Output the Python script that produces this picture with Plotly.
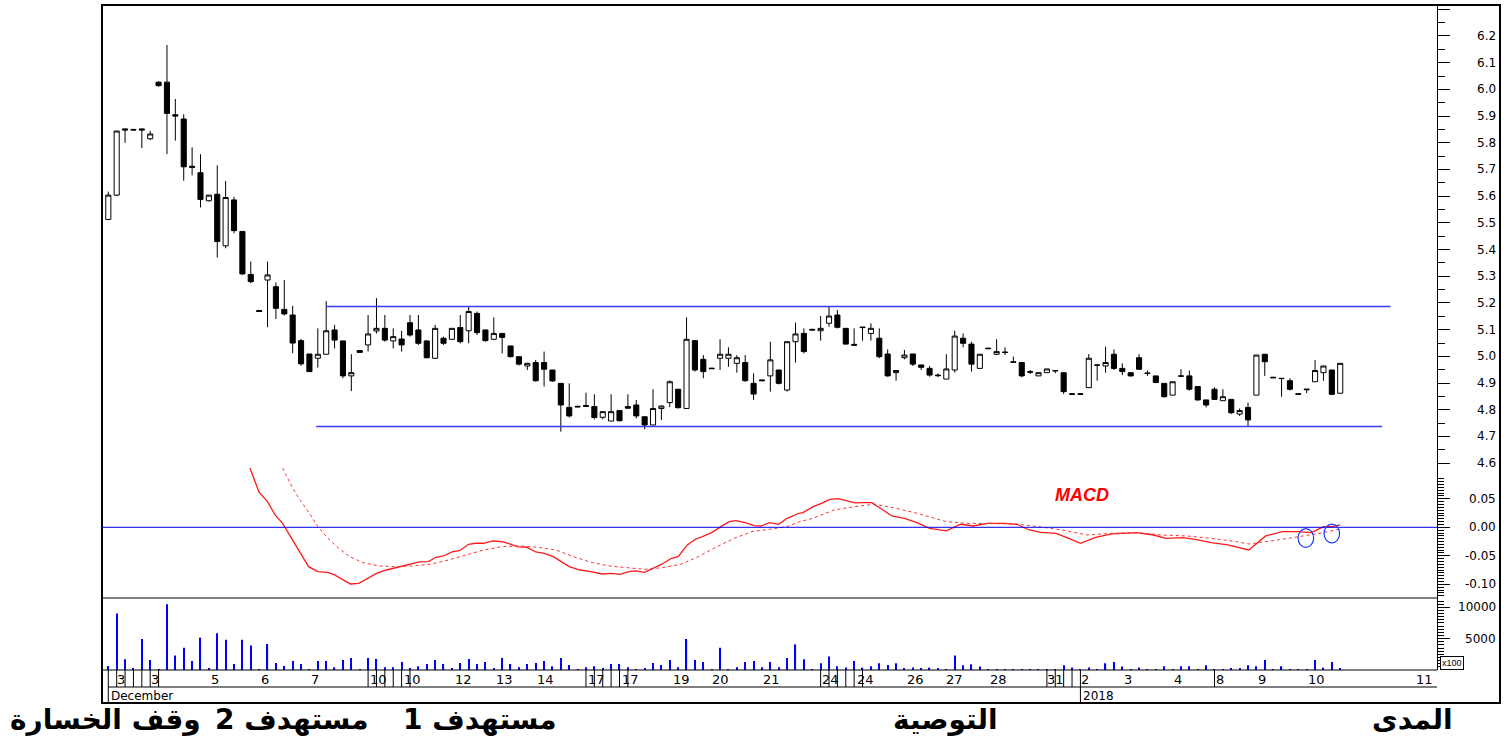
import plotly.graph_objects as go
import numpy as np

# ---------------- DATA ----------------
open_ = [5.513, 5.604, 5.852, 5.85, 5.852, 5.815, 6.027, 6.027, 5.905, 5.889,
         5.712, 5.688, 5.583, 5.607, 5.414, 5.586, 5.468, 5.307, 5.172, 5.286,
         5.261, 5.176, 5.155, 5.059, 5.009, 4.993, 5.008, 5.099, 5.058, 4.927,
         5.022, 5.043, 5.095, 5.105, 5.058, 5.065, 5.126, 5.099, 5.058, 4.993,
         5.068, 5.064, 5.108, 5.096, 5.161, 5.099, 5.064, 5.086, 5.039, 4.999,
         4.964, 4.977, 4.977, 4.949, 4.899, 4.809, 4.813, 4.816, 4.812, 4.772,
         4.758, 4.797, 4.812, 4.818, 4.774, 4.743, 4.805, 4.827, 4.877, 4.805,
         5.059, 4.989, 4.956, 4.993, 4.993, 4.974, 4.977, 4.899, 4.912, 4.927,
         4.949, 4.874, 5.055, 5.086, 5.098, 5.096, 5.124, 5.155, 5.105, 5.045,
         5.11, 5.086, 5.068, 5.009, 4.939, 4.995, 5.009, 4.968, 4.955, 4.93,
         4.915, 4.949, 5.068, 5.046, 4.955, 5.031, 5.008, 5.016, 4.98, 4.977,
         4.943, 4.927, 4.939, 4.947, 4.939, 4.86, 4.86, 4.883, 4.968, 4.964,
         5.008, 4.955, 4.939, 4.995, 4.938, 4.927, 4.899, 4.855, 4.927, 4.927,
         4.887, 4.837, 4.877, 4.834, 4.839, 4.784, 4.809, 4.855, 5.008, 4.922,
         4.918, 4.909, 4.86, 4.875, 4.905, 4.939, 4.949, 4.862]
high = [5.617, 5.845, 5.852, 5.852, 5.852, 5.845, 6.03, 6.166, 5.964, 5.907,
        5.783, 5.757, 5.604, 5.716, 5.657, 5.598, 5.468, 5.355, 5.172, 5.355,
        5.277, 5.286, 5.189, 5.065, 5.009, 5.105, 5.207, 5.118, 5.058, 5.008,
        5.022, 5.155, 5.218, 5.155, 5.105, 5.096, 5.155, 5.155, 5.06, 5.118,
        5.074, 5.105, 5.155, 5.186, 5.168, 5.099, 5.146, 5.086, 5.039, 4.999,
        4.976, 4.987, 5.018, 4.949, 4.899, 4.899, 4.815, 4.864, 4.858, 4.794,
        4.858, 4.797, 4.858, 4.837, 4.774, 4.877, 4.816, 4.91, 4.877, 5.146,
        5.061, 5.005, 4.956, 5.064, 5.034, 5.005, 5.005, 4.937, 4.912, 5.055,
        4.949, 5.055, 5.126, 5.105, 5.103, 5.151, 5.186, 5.174, 5.105, 5.105,
        5.11, 5.124, 5.105, 5.026, 4.948, 5.024, 5.009, 4.968, 4.964, 4.936,
        5.008, 5.096, 5.086, 5.055, 5.008, 5.031, 5.064, 5.034, 4.999, 4.977,
        4.949, 4.939, 4.953, 4.947, 4.939, 4.862, 4.862, 5.009, 4.97, 5.036,
        5.026, 4.974, 4.939, 5.008, 4.947, 4.927, 4.899, 4.905, 4.952, 4.947,
        4.887, 4.837, 4.884, 4.877, 4.839, 4.805, 4.827, 5.005, 5.008, 4.922,
        4.918, 4.918, 4.86, 4.878, 4.986, 4.965, 4.949, 4.974]
low = [5.51, 5.60, 5.80, 5.846, 5.78, 5.81, 6.01, 5.758, 5.808, 5.658,
       5.678, 5.558, 5.58, 5.37, 5.405, 5.461, 5.305, 5.274, 5.166, 5.109,
       5.14, 5.153, 5.012, 4.965, 4.942, 4.958, 5.008, 5.03, 4.918, 4.87,
       5.015, 5.018, 5.086, 5.055, 5.03, 5.018, 5.074, 5.043, 4.993, 4.99,
       5.043, 5.064, 5.049, 5.049, 5.08, 5.055, 5.061, 5.011, 4.996, 4.966,
       4.949, 4.905, 4.887, 4.905, 4.718, 4.771, 4.81, 4.813, 4.764, 4.764,
       4.758, 4.757, 4.805, 4.768, 4.727, 4.743, 4.762, 4.81, 4.805, 4.805,
       4.943, 4.918, 4.954, 4.949, 4.961, 4.939, 4.905, 4.837, 4.909, 4.868,
       4.895, 4.868, 4.977, 5.011, 5.097, 5.059, 5.111, 5.105, 5.045, 5.042,
       5.059, 5.059, 4.993, 4.924, 4.909, 4.989, 4.964, 4.949, 4.924, 4.922,
       4.915, 4.939, 5.034, 4.943, 4.955, 5.029, 5.005, 5.005, 4.977, 4.922,
       4.934, 4.927, 4.939, 4.937, 4.859, 4.855, 4.855, 4.883, 4.909, 4.939,
       4.949, 4.93, 4.924, 4.949, 4.927, 4.9, 4.846, 4.855, 4.922, 4.872,
       4.834, 4.809, 4.837, 4.834, 4.784, 4.777, 4.739, 4.855, 4.927, 4.92,
       4.849, 4.872, 4.858, 4.862, 4.905, 4.909, 4.855, 4.86]
close = [5.604, 5.844, 5.848, 5.848, 5.848, 5.833, 6.014, 5.91, 5.9, 5.71,
         5.708, 5.588, 5.604, 5.43, 5.595, 5.471, 5.309, 5.28, 5.168, 5.305,
         5.18, 5.159, 5.05, 4.972, 4.943, 5.008, 5.096, 5.061, 4.927, 4.939,
         5.015, 5.084, 5.105, 5.061, 5.074, 5.043, 5.08, 5.049, 4.995, 5.105,
         5.049, 5.105, 5.055, 5.168, 5.089, 5.059, 5.086, 5.071, 4.999, 4.971,
         4.974, 4.909, 4.952, 4.908, 4.818, 4.777, 4.811, 4.813, 4.771, 4.793,
         4.793, 4.759, 4.806, 4.777, 4.743, 4.805, 4.814, 4.905, 4.808, 5.064,
         4.949, 4.943, 4.954, 5.008, 5.008, 4.995, 4.909, 4.859, 4.909, 4.987,
         4.899, 5.055, 5.084, 5.018, 5.101, 5.105, 5.151, 5.109, 5.046, 5.042,
         5.108, 5.105, 4.999, 4.927, 4.947, 5.005, 4.971, 4.959, 4.93, 4.928,
         4.953, 5.076, 5.049, 4.971, 5.008, 5.029, 5.018, 5.015, 4.978, 4.927,
         4.941, 4.939, 4.953, 4.946, 4.868, 4.858, 4.858, 4.993, 4.967, 4.977,
         4.955, 4.943, 4.927, 4.952, 4.936, 4.902, 4.849, 4.905, 4.926, 4.877,
         4.837, 4.818, 4.839, 4.849, 4.789, 4.797, 4.762, 5.005, 4.98, 4.92,
         4.917, 4.877, 4.858, 4.877, 4.947, 4.964, 4.858, 4.974]
volume = [640, 9020, 1720, 270, 4940, 1610, 160, 10470, 2310, 3540,
          1450, 5160, 270, 5850, 4830, 970, 4830, 3920, 160, 4140,
          1130, 640, 1450, 970, 110, 1450, 1450, 430, 1610, 1930,
          100, 1930, 1770, 430, 430, 1290, 270, 590, 970, 1610,
          970, 270, 1130, 1770, 970, 1290, 270, 1930, 970, 430,
          970, 1130, 1450, 590, 1930, 810, 110, 430, 590, 270,
          970, 970, 430, 110, 270, 1130, 810, 1610, 430, 4940,
          1610, 1290, 110, 3540, 160, 430, 1290, 1450, 430, 1290,
          430, 1930, 4080, 1720, 100, 1070, 2150, 590, 380, 1450,
          380, 590, 1070, 810, 1070, 220, 380, 220, 380, 220,
          60, 2310, 750, 910, 540, 160, 160, 60, 160, 160,
          160, 60, 160, 160, 750, 380, 160, 380, 160, 1070,
          1290, 540, 160, 380, 160, 160, 590, 60, 590, 590,
          160, 750, 160, 160, 220, 220, 750, 590, 1610, 160,
          590, 160, 160, 60, 1610, 380, 1290, 220]

macd_x = [16.9, 18.0, 19.0, 19.9, 20.8, 22.0, 23.0, 23.9, 25.0, 26.2,
          27.0, 28.0, 28.9, 29.9, 31.0, 32.0, 33.2, 34.4, 35.8, 37.1,
          38.2, 39.1, 40.0, 41.1, 41.9, 43.0, 43.8, 44.8, 45.9, 47.0,
          47.9, 48.8, 49.9, 51.0, 52.0, 53.1, 55.0, 56.3, 57.6, 58.9,
          60.0, 61.1, 62.1, 62.9, 64.0, 65.1, 66.1, 67.2, 68.0, 69.1,
          70.1, 70.9, 72.0, 73.1, 74.1, 74.9, 76.0, 77.1, 77.9, 78.9,
          80.0, 81.0, 82.4, 82.9, 84.1, 85.1, 86.1, 87.1, 88.1, 89.1,
          90.1, 91.1, 92.3, 93.5, 95.0, 96.5, 98.0, 100.0, 101.7, 103.2,
          104.9, 106.9, 108.4, 109.9, 111.3, 113.1, 114.6, 116.0, 117.8, 119.8,
          122.7, 124.7, 126.2, 128.2, 129.7, 131.6, 133.6, 136.1, 138.1, 140.1,
          142.0, 143.6, 145.0, 146.0, 147.0]
macd = [0.104, 0.061, 0.045, 0.0216, 0.007, -0.022, -0.0456, -0.069, -0.0778, -0.079,
        -0.0836, -0.0924, -0.0994, -0.0982, -0.0895, -0.0807, -0.0749, -0.0702, -0.066, -0.0608,
        -0.0602, -0.0526, -0.0503, -0.0427, -0.041, -0.0298, -0.028, -0.028, -0.024, -0.0251,
        -0.0292, -0.0339, -0.035, -0.0433, -0.0456, -0.0515, -0.069, -0.0749, -0.0778, -0.0819,
        -0.0807, -0.0825, -0.0778, -0.0766, -0.079, -0.0719, -0.0643, -0.0544, -0.0515, -0.031,
        -0.0205, -0.0164, -0.0094, 0.0012, 0.0099, 0.0117, 0.0082, 0.0029, 0.0023, 0.0082,
        0.0053, 0.0158, 0.0246, 0.0257, 0.0363, 0.0421, 0.0491, 0.0503, 0.0462, 0.0427,
        0.0433, 0.0433, 0.0316, 0.0199, 0.0158, 0.0082, -0.0018, -0.0064, 0.0053, 0.0023,
        0.007, 0.007, 0.0053, -0.0047, -0.0088, -0.0105, -0.0193, -0.0281, -0.0175, -0.0117,
        -0.0094, -0.0135, -0.0193, -0.0181, -0.0211, -0.0269, -0.031, -0.0398, -0.0152, -0.0076,
        -0.0076, -0.0094, 0.0012, 0.0012, 0.0041]
signal_x = [20.8, 21.9, 23.0, 24.0, 25.0, 26.2, 27.5, 28.8, 30.4, 32.3,
            34.2, 36.3, 38.4, 40.6, 42.7, 44.8, 47.0, 49.1, 51.2, 53.4,
            55.5, 57.6, 59.7, 61.9, 64.0, 66.1, 68.3, 70.4, 72.5, 74.7,
            76.8, 78.9, 81.0, 82.5, 84.1, 86.6, 89.1, 91.5, 94.0, 96.5,
            100.0, 102.4, 105.9, 108.4, 110.9, 113.8, 116.8, 119.8, 122.7, 125.7,
            128.7, 131.6, 134.6, 136.1, 139.6, 142.5, 145.0, 146.8]
signal = [0.104, 0.0713, 0.045, 0.0246, 0.0012, -0.0193, -0.0368, -0.0515, -0.062, -0.0678,
          -0.069, -0.0678, -0.0649, -0.0573, -0.0485, -0.0398, -0.0339, -0.0327, -0.035, -0.0398,
          -0.0515, -0.0614, -0.0678, -0.0702, -0.0737, -0.0708, -0.0649, -0.0515, -0.035, -0.0193,
          -0.0076, -0.0035, 0.0012, 0.0099, 0.0158, 0.0304, 0.0363, 0.0404, 0.0333, 0.0246,
          0.0099, 0.007, 0.007, 0.0058, 0.0012, -0.0047, -0.0135, -0.0105, -0.0094, -0.0135,
          -0.0152, -0.0193, -0.0251, -0.0292, -0.0222, -0.0152, -0.0094, -0.0035]

resistance_level = 5.187
resistance_span = [26.0, 153.0]
support_level = 4.737
support_span = [24.8, 152.0]
circle_x = [142.9, 146.0]
circle_y = [-0.0188, -0.0109]

day_labels = ["3", "3", "5", "6", "7", "10", "10", "12", "13", "14", "17", "17", "19", "20",
              "21", "24", "24", "26", "27", "28", "31", "2", "3", "4", "8", "9", "10", "11"]
day_pos = [1.5, 5.6, 12.7, 18.7, 24.7, 32.3, 36.3, 42.4, 47.3, 52.2, 58.3, 62.3, 68.4, 73.0,
           79.1, 86.2, 90.3, 96.3, 101.0, 106.2, 113.0, 116.6, 121.7, 127.7, 132.7, 137.7, 144.2, 157.1]
day_separators = [1, 2, 3, 4, 5, 6, 31, 32, 33, 34, 35, 36, 57, 58, 59, 60, 61, 62,
                  85, 86, 87, 88, 89, 90, 112, 113, 114, 115, 132]
month_labels = ["December", "2018"]
month_pos = [0, 116]

price_ticks = [4.6, 4.7, 4.8, 4.9, 5.0, 5.1, 5.2, 5.3, 5.4, 5.5, 5.6, 5.7, 5.8, 5.9, 6.0, 6.1, 6.2]
macd_ticks = [-0.10, -0.05, 0.00, 0.05]
vol_ticks = [5000, 10000]

arabic_labels = ["المدى", "التوصية", "مستهدف 1", "مستهدف 2", "وقف الخسارة"]

# ---------------- LAYOUT GEOMETRY ----------------
W, H = 1504, 741
ML, MR, MT, MB = 102, 67, 5, 38
PW = W - ML - MR
PH = H - MT - MB


def fx(px):
    return (px - ML) / PW


def fy(py):
    return (H - MB - py) / PH


Y_PRICE_BOT, Y_MACD_BOT, Y_VOL_BOT, Y_DAY_BOT, Y_BOT = 468, 598, 670, 687, 703
XRANGE = [-0.752, 158.55]

n = len(close)
idx = list(range(n))

fig = go.Figure()

fig.add_trace(go.Candlestick(
    x=idx, open=open_, high=high, low=low, close=close,
    increasing=dict(line=dict(color="black", width=1), fillcolor="white"),
    decreasing=dict(line=dict(color="black", width=1), fillcolor="black"),
    whiskerwidth=0, xaxis="x", yaxis="y", hoverinfo="skip", showlegend=False))

fig.add_trace(go.Scatter(x=macd_x, y=macd, mode="lines", xaxis="x", yaxis="y2",
                         line=dict(color="#ff1a1a", width=1.3), hoverinfo="skip", showlegend=False))
fig.add_trace(go.Scatter(x=signal_x, y=signal, mode="lines", xaxis="x", yaxis="y2",
                         line=dict(color="#ff3030", width=1, dash="dot"), hoverinfo="skip", showlegend=False))

fig.add_trace(go.Bar(x=idx, y=volume, width=0.14, xaxis="x", yaxis="y3",
                     marker=dict(color="#0000ff", line=dict(width=0)), hoverinfo="skip", showlegend=False))

axis_common = dict(side="right", anchor="x", showgrid=False, zeroline=False, showline=True,
                   linecolor="black", linewidth=1, ticks="outside", ticklen=12, tickcolor="black",
                   showticklabels=False, fixedrange=True)

fig.update_layout(
    width=W, height=H,
    margin=dict(l=ML, r=MR, t=MT, b=MB),
    paper_bgcolor="white", plot_bgcolor="white",
    showlegend=False, boxgap=0.22, boxgroupgap=0.22,
    xaxis=dict(domain=[0, 1], range=XRANGE, visible=False, anchor="y3",
               rangeslider=dict(visible=False), fixedrange=True),
    yaxis=dict(domain=[fy(Y_PRICE_BOT), 1], range=[4.582, 6.316],
               tickmode="array", tickvals=price_ticks + [6.3],
               minor=dict(tickmode="array", tickvals=list(np.round(np.arange(4.65, 6.3, 0.1), 3)),
                          ticks="outside", ticklen=7, tickcolor="black"),
               **axis_common),
    yaxis2=dict(domain=[fy(Y_MACD_BOT), fy(Y_PRICE_BOT)], range=[-0.124, 0.104],
                tickmode="array", tickvals=macd_ticks,
                minor=dict(tickmode="array", tickvals=list(np.round(np.arange(-0.12, 0.0851, 0.005), 4)),
                           ticks="outside", ticklen=6, tickcolor="black"),
                **axis_common),
    yaxis3=dict(domain=[fy(Y_VOL_BOT), fy(Y_MACD_BOT)], range=[0, 11480],
                tickmode="array", tickvals=vol_ticks,
                minor=dict(tickmode="array", tickvals=list(range(500, 11001, 500)),
                           ticks="outside", ticklen=6, tickcolor="black"),
                **axis_common),
)

shapes = []
# frame
shapes.append(dict(type="rect", xref="paper", yref="paper", x0=0, x1=fx(1500), y0=0, y1=1,
                   line=dict(color="black", width=2), fillcolor="rgba(0,0,0,0)", layer="above"))
# panel separators
for ypix in (Y_MACD_BOT, Y_VOL_BOT):
    shapes.append(dict(type="line", xref="paper", yref="paper", x0=0, x1=1, y0=fy(ypix), y1=fy(ypix),
                       line=dict(color="black", width=1)))
shapes.append(dict(type="line", xref="x", yref="paper", x0=month_pos[0], x1=XRANGE[1],
                   y0=fy(Y_DAY_BOT), y1=fy(Y_DAY_BOT), line=dict(color="black", width=1)))
# date band separators
for d in day_separators:
    shapes.append(dict(type="line", xref="x", yref="paper", x0=d, x1=d, y0=fy(Y_DAY_BOT), y1=fy(Y_VOL_BOT),
                       line=dict(color="black", width=1)))
for m in month_pos:
    shapes.append(dict(type="line", xref="x", yref="paper", x0=m, x1=m, y0=fy(Y_BOT), y1=fy(Y_VOL_BOT),
                       line=dict(color="black", width=1)))
# MACD zero line
shapes.append(dict(type="line", xref="paper", yref="y2", x0=0, x1=1, y0=0, y1=0,
                   line=dict(color="#0000ee", width=1)))
# support / resistance
shapes.append(dict(type="line", xref="x", yref="y", x0=resistance_span[0], x1=resistance_span[1],
                   y0=resistance_level, y1=resistance_level, line=dict(color="#3b3bff", width=1.5)))
shapes.append(dict(type="line", xref="x", yref="y", x0=support_span[0], x1=support_span[1],
                   y0=support_level, y1=support_level, line=dict(color="#3b3bff", width=1.5)))
# crossover circles
for cx, cy in zip(circle_x, circle_y):
    shapes.append(dict(type="circle", xref="x", yref="y2", x0=cx - 0.93, x1=cx + 0.93,
                       y0=cy - 0.0165, y1=cy + 0.0165, line=dict(color="#1a3cff", width=1.2)))
fig.update_layout(shapes=shapes)

ann = []
TICKFONT = dict(family="DejaVu Sans", size=12, color="black")
for v in price_ticks:
    ann.append(dict(xref="paper", yref="y", x=fx(1498), y=v, text=f"{v:.1f}", showarrow=False,
                    xanchor="right", yanchor="middle", font=TICKFONT))
for v in macd_ticks:
    ann.append(dict(xref="paper", yref="y2", x=fx(1498), y=v, text=f"{v:.2f}", showarrow=False,
                    xanchor="right", yanchor="middle", font=TICKFONT))
for v in vol_ticks:
    ann.append(dict(xref="paper", yref="y3", x=fx(1498), y=v, text=f"{v}", showarrow=False,
                    xanchor="right", yanchor="middle", font=TICKFONT))
ann.append(dict(xref="paper", yref="paper", x=fx(1440), y=fy(662.5), text="x100", showarrow=False,
                xanchor="left", yanchor="middle", font=dict(family="Liberation Sans", size=9, color="black"),
                bordercolor="black", borderwidth=1, borderpad=1, bgcolor="white"))
for lab, p in zip(day_labels, day_pos):
    ann.append(dict(xref="x", yref="paper", x=p, y=fy(679), text=lab, showarrow=False,
                    xanchor="center", yanchor="middle",
                    font=dict(family="DejaVu Sans", size=13, color="black")))
for lab, p in zip(month_labels, month_pos):
    ann.append(dict(xref="x", yref="paper", x=p, y=fy(695.5), text=lab, showarrow=False,
                    xanchor="left", yanchor="middle", xshift=1,
                    font=dict(family="DejaVu Sans", size=12, color="black")))
ann.append(dict(xref="paper", yref="y2", x=fx(1082), y=0.0567, text="<b><i>MACD</i></b>", showarrow=False,
                xanchor="center", yanchor="middle",
                font=dict(family="Liberation Sans", size=18, color="#ff0000")))
arabic_x = [1412, 945, 480, 292, 105]
for lab, xp in zip(arabic_labels, arabic_x):
    ann.append(dict(xref="paper", yref="paper", x=fx(xp), y=fy(719), text=f"<b>{lab}</b>", showarrow=False,
                    xanchor="center", yanchor="middle",
                    font=dict(family="DejaVu Sans", size=28, color="black")))
fig.update_layout(annotations=ann)

fig.write_html("out.html", config={"displayModeBar": False},
               post_script="document.body.style.margin='0';document.body.style.overflow='hidden';")
